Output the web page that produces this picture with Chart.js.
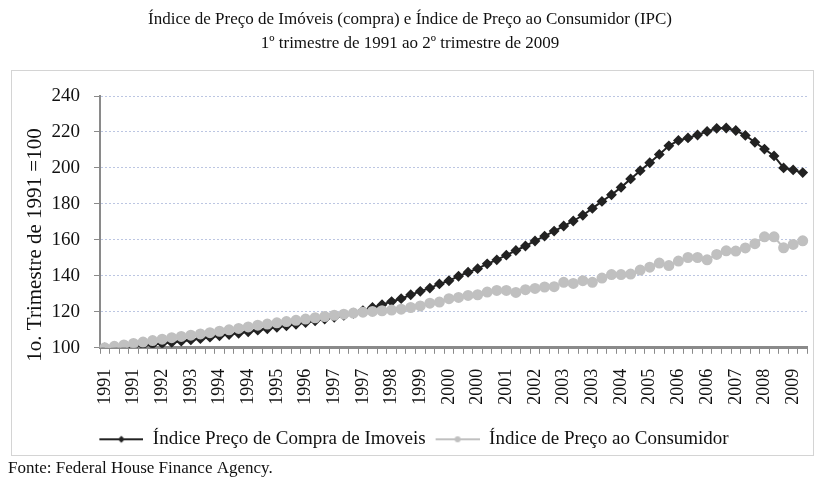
<!DOCTYPE html>
<html lang="pt">
<head>
<meta charset="utf-8">
<title>Índice de Preço de Imóveis e IPC</title>
<script src="https://cdn.jsdelivr.net/npm/chart.js@4.4.0/dist/chart.umd.min.js"></script>
<style>
  body { margin: 0; background: #fff; }
  #grafico { display: block; }
</style>
</head>
<body>
<canvas id="grafico" width="814" height="486"></canvas>
<script>
// --- Dados (1º trimestre de 1991 ao 2º trimestre de 2009) ---
const anos = [1991, 1992, 1993, 1994, 1995, 1996, 1997, 1998, 1999, 2000,
  2001, 2002, 2003, 2004, 2005, 2006, 2007, 2008, 2009];
// um rótulo por trimestre, termina no 2º trimestre de 2009
const trimestres = anos.flatMap(a => ["T1", "T2", "T3", "T4"].map(t => a + " " + t)).slice(0, 74);

const precoImoveis = [
  100.0, 99.8, 100.3, 100.8, 101.3, 101.8, 102.4, 103.0, 103.7, 104.4,
  105.1, 105.9, 106.7, 107.4, 108.1, 108.9, 109.8, 110.6, 111.4, 112.2,
  113.1, 114.0, 115.0, 116.0, 117.0, 118.0, 119.2, 120.7, 122.4, 124.0,
  125.7, 127.3, 129.5, 131.4, 133.2, 135.5, 137.3, 139.8, 142.0, 144.0,
  146.7, 148.9, 151.5, 154.1, 156.6, 159.4, 162.1, 164.9, 167.7, 170.5,
  173.7, 177.5, 181.4, 185.1, 189.2, 193.9, 198.5, 202.9, 207.5, 212.3,
  215.3, 216.7, 218.3, 220.3, 222.0, 222.2, 220.8, 218.1, 214.3, 210.5,
  206.7, 200.0, 198.9, 197.4
];

const precoConsumidor = [
  100.0, 100.8, 101.6, 102.4, 103.2, 104.0, 104.8, 105.6, 106.3, 107.0,
  107.7, 108.4, 109.2, 110.0, 110.8, 111.6, 112.6, 113.2, 113.9, 114.6,
  115.3, 116.0, 116.7, 117.4, 118.1, 118.7, 119.3, 119.8, 120.2, 120.6,
  121.0, 121.5, 122.4, 123.3, 124.8, 125.4, 127.3, 128.0, 129.1, 129.5,
  131.0, 131.9, 131.9, 130.8, 132.3, 133.0, 133.8, 134.0, 136.4, 135.8,
  137.3, 136.4, 138.8, 140.7, 140.7, 141.0, 143.2, 144.8, 147.1, 145.7,
  148.2, 150.2, 150.2, 148.9, 151.9, 153.9, 153.8, 155.5, 157.9, 161.7,
  161.7, 155.6, 157.5, 159.5
];

const ticksY = [100, 120, 140, 160, 180, 200, 220, 240];
const intervaloRotulo = 3; // um ano a cada 3 trimestres, como no original

const FONTE = "'Liberation Serif', 'Times New Roman', serif";
const COR_IMOVEIS = "#222222";
const COR_IPC = "#c0c0c0";

// --- Amostra da legenda: linha com marcador no meio ---
function amostraLegenda(cor, forma) {
  const c = document.createElement("canvas");
  c.width = 52; c.height = 12;
  const ctx = c.getContext("2d");
  ctx.strokeStyle = cor;
  ctx.fillStyle = cor;
  ctx.lineWidth = 2;
  ctx.beginPath();
  ctx.moveTo(8, 6); ctx.lineTo(52, 6);
  ctx.stroke();
  ctx.beginPath();
  if (forma === "losango") {
    ctx.moveTo(30, 2.5); ctx.lineTo(33.5, 6); ctx.lineTo(30, 9.5); ctx.lineTo(26.5, 6);
    ctx.closePath();
  } else {
    ctx.arc(30, 6, 3, 0, Math.PI * 2);
  }
  ctx.fill();
  return c;
}
const amostras = [amostraLegenda(COR_IMOVEIS, "losango"), amostraLegenda(COR_IPC, "circulo")];

// --- Moldura e título do eixo Y ---
const molduraPlugin = {
  id: "moldura",
  beforeDraw(chart) {
    const ctx = chart.ctx;
    ctx.save();
    ctx.strokeStyle = "#d4d4d4";
    ctx.lineWidth = 1;
    ctx.strokeRect(11.5, 70.5, 802, 385);
    ctx.restore();
  },
  afterDraw(chart) {
    const ctx = chart.ctx;
    ctx.save();
    ctx.translate(35, 245);
    ctx.rotate(-Math.PI / 2);
    ctx.font = "21px " + FONTE;
    ctx.fillStyle = "#111";
    ctx.textAlign = "center";
    ctx.textBaseline = "middle";
    ctx.fillText("1o. Trimestre de 1991 =100", 0, 0);
    ctx.restore();
  }
};

new Chart(document.getElementById("grafico"), {
  type: "line",
  data: {
    labels: trimestres,
    datasets: [
      {
        label: "Índice Preço de Compra de Imoveis",
        data: precoImoveis,
        borderColor: COR_IMOVEIS,
        backgroundColor: COR_IMOVEIS,
        borderWidth: 2,
        pointStyle: "rectRot",
        pointRadius: 4,
        pointHoverRadius: 4,
        tension: 0,
        order: 1
      },
      {
        label: "Índice de Preço ao Consumidor",
        data: precoConsumidor,
        borderColor: COR_IPC,
        backgroundColor: COR_IPC,
        borderWidth: 2,
        pointStyle: "circle",
        pointRadius: 4.5,
        pointHoverRadius: 4.5,
        tension: 0,
        order: 0
      }
    ]
  },
  options: {
    responsive: false,
    animation: false,
    layout: { padding: { left: 8, right: 2, top: 0, bottom: 0 } },
    scales: {
      x: {
        offset: true,
        grid: {
          display: true,
          offset: true,
          drawOnChartArea: false,
          drawTicks: true,
          tickLength: 6,
          tickColor: "#8a8a8a",
          tickWidth: 1
        },
        border: { display: true, color: "#8a8a8a", width: 3 },
        ticks: {
          autoSkip: false,
          minRotation: 90,
          maxRotation: 90,
          padding: 15,
          color: "#111",
          font: { family: FONTE, size: 18 },
          callback: (v, i) => (i % intervaloRotulo === 0 ? trimestres[i].slice(0, 4) : "")
        },
        afterFit: s => {
          s.height = 80;
          s.paddingLeft = 0;
          s.paddingRight = 0;
        }
      },
      y: {
        min: ticksY[0],
        max: ticksY[ticksY.length - 1],
        afterBuildTicks: s => { s.ticks = ticksY.map(v => ({ value: v })); },
        grid: {
          color: "#bcc6e2",
          lineWidth: 1,
          tickLength: 6,
          tickColor: "#8a8a8a",
          tickWidth: 1,
          tickBorderDash: []
        },
        border: { display: true, color: "#8a8a8a", width: 2, dash: [2, 2] },
        ticks: {
          padding: 14,
          color: "#111",
          font: { family: FONTE, size: 19 }
        },
        afterFit: s => { s.width = 92; }
      }
    },
    plugins: {
      title: {
        display: true,
        text: [
          "Índice de Preço de Imóveis (compra) e Índice de Preço ao Consumidor (IPC)",
          "1º trimestre de 1991 ao 2º trimestre de 2009"
        ],
        color: "#111",
        font: { family: FONTE, size: 17, weight: "normal", lineHeight: 1.4 },
        padding: { top: 8, bottom: 40.4 }
      },
      subtitle: {
        display: true,
        position: "bottom",
        align: "start",
        text: "Fonte: Federal House Finance Agency.",
        color: "#111",
        font: { family: FONTE, size: 17, lineHeight: 1.2 },
        padding: { top: 0, bottom: 6.8 }
      },
      legend: {
        position: "bottom",
        labels: {
          usePointStyle: true,
          pointStyleWidth: 52,
          padding: 2,
          color: "#111",
          font: { family: FONTE, size: 19 },
          sort: (a, b) => a.datasetIndex - b.datasetIndex,
          generateLabels: chart => {
            const itens = Chart.defaults.plugins.legend.labels.generateLabels(chart);
            itens.forEach(item => { item.pointStyle = amostras[item.datasetIndex]; });
            return itens;
          }
        }
      },
      tooltip: { enabled: false }
    }
  },
  plugins: [molduraPlugin]
});
</script>
</body>
</html>
